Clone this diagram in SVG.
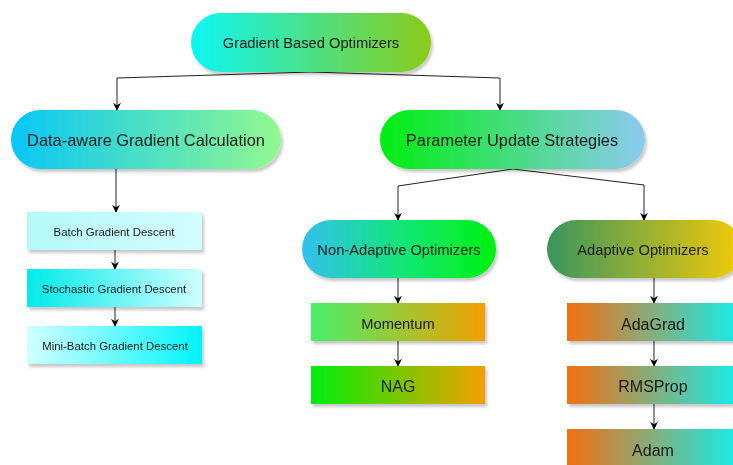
<svg xmlns="http://www.w3.org/2000/svg" width="733" height="465" viewBox="0 0 733 465">
<defs>
  <filter id="sh" x="-10%" y="-20%" width="130%" height="160%">
    <feDropShadow dx="2" dy="3" stdDeviation="1.5" flood-color="#000" flood-opacity="0.22"/>
  </filter>
  <marker id="arr" viewBox="0 0 10 10" refX="9" refY="5" markerWidth="8" markerHeight="8" markerUnits="userSpaceOnUse" orient="auto">
    <path d="M0,0 L10,5 L0,10 L3,5 Z" fill="#000"/>
  </marker>
  <linearGradient id="gTop" x1="0" y1="0" x2="1" y2="0"><stop offset="0" stop-color="#0df6f4"/><stop offset="1" stop-color="#8acb19"/></linearGradient>
  <linearGradient id="gData" x1="0" y1="0" x2="1" y2="0"><stop offset="0" stop-color="#08c6f6"/><stop offset="1" stop-color="#92f890"/></linearGradient>
  <linearGradient id="gParam" x1="0" y1="0" x2="1" y2="0"><stop offset="0" stop-color="#00ee10"/><stop offset="1" stop-color="#8ccaf0"/></linearGradient>
  <linearGradient id="gNon" x1="0" y1="0" x2="1" y2="0"><stop offset="0" stop-color="#33c0ee"/><stop offset="0.55" stop-color="#10e870"/><stop offset="1" stop-color="#00f010"/></linearGradient>
  <linearGradient id="gAda" x1="0" y1="0" x2="1" y2="0"><stop offset="0" stop-color="#3a955e"/><stop offset="1" stop-color="#f2ca08"/></linearGradient>
  <linearGradient id="gBatch" x1="0" y1="0" x2="1" y2="0"><stop offset="0" stop-color="#b4f8f8"/><stop offset="1" stop-color="#d2fdff"/></linearGradient>
  <linearGradient id="gStoch" x1="0" y1="0" x2="1" y2="0"><stop offset="0" stop-color="#00eaea"/><stop offset="1" stop-color="#d0feff"/></linearGradient>
  <linearGradient id="gMini" x1="0" y1="0" x2="1" y2="0"><stop offset="0" stop-color="#d0feff"/><stop offset="1" stop-color="#00f4f8"/></linearGradient>
  <linearGradient id="gMom" x1="0" y1="0" x2="1" y2="0"><stop offset="0" stop-color="#48ef6a"/><stop offset="1" stop-color="#f2a000"/></linearGradient>
  <linearGradient id="gNag" x1="0" y1="0" x2="1" y2="0"><stop offset="0" stop-color="#00ee08"/><stop offset="1" stop-color="#f2a000"/></linearGradient>
  <linearGradient id="gOr" x1="0" y1="0" x2="1" y2="0"><stop offset="0" stop-color="#f36f10"/><stop offset="1" stop-color="#10f0f0"/></linearGradient>
</defs>
<style>
  text { font-family: "Liberation Sans", Arial, sans-serif; fill: #1a1a1a; text-anchor: middle; dominant-baseline: central; }
  .big { font-size: 14.7px; }
  .lg { font-size: 16.4px; }
  .md { font-size: 16px; }
  .small { font-size: 11.4px; }
  .node { filter: url(#sh); }
  .conn { fill: none; stroke: #222; stroke-width: 1; marker-end: url(#arr); }
</style>
<g id="connectors">
  <polyline class="conn" points="311,72 117,78 117,110"/>
  <polyline class="conn" points="311,72 500,78 500,110"/>
  <polyline class="conn" points="116,169 116,212"/>
  <polyline class="conn" points="115,250 115,269"/>
  <polyline class="conn" points="115,307 115,326"/>
  <polyline class="conn" points="513,169 398,186 398,220"/>
  <polyline class="conn" points="513,169 644,185 644,220"/>
  <polyline class="conn" points="398,278 398,303"/>
  <polyline class="conn" points="398,341 398,366"/>
  <polyline class="conn" points="654,278 654,303"/>
  <polyline class="conn" points="654,341 654,366"/>
  <polyline class="conn" points="654,404 654,429"/>
</g>
<g id="n-top" class="node"><rect x="191" y="13" width="240" height="59" rx="29.5" fill="url(#gTop)"/><text class="big" x="311" y="43">Gradient Based Optimizers</text></g>
<g id="n-data" class="node"><rect x="11" y="110" width="270" height="59" rx="29.5" fill="url(#gData)"/><text class="lg" x="146" y="140">Data-aware Gradient Calculation</text></g>
<g id="n-param" class="node"><rect x="380" y="110" width="265" height="59" rx="29.5" fill="url(#gParam)"/><text class="lg" x="512" y="140">Parameter Update Strategies</text></g>
<g id="n-batch" class="node"><rect x="27" y="212" width="175" height="38" fill="url(#gBatch)"/><text class="small" x="114" y="232">Batch Gradient Descent</text></g>
<g id="n-stoch" class="node"><rect x="27" y="269" width="175" height="38" fill="url(#gStoch)"/><text class="small" x="114" y="289">Stochastic Gradient Descent</text></g>
<g id="n-mini" class="node"><rect x="27" y="326" width="175" height="38" fill="url(#gMini)"/><text class="small" x="115" y="346">Mini-Batch Gradient Descent</text></g>
<g id="n-nonadaptive" class="node"><rect x="302" y="220" width="194" height="58" rx="29" fill="url(#gNon)"/><text class="big" x="399" y="250">Non-Adaptive Optimizers</text></g>
<g id="n-adaptive" class="node"><rect x="547" y="220" width="195" height="58" rx="29" fill="url(#gAda)"/><text class="big" x="643" y="250">Adaptive Optimizers</text></g>
<g id="n-momentum" class="node"><rect x="311" y="303" width="174" height="38" fill="url(#gMom)"/><text class="big" x="398" y="324">Momentum</text></g>
<g id="n-nag" class="node"><rect x="311" y="366" width="174" height="38" fill="url(#gNag)"/><text class="md" x="398" y="386">NAG</text></g>
<g id="n-adagrad" class="node"><rect x="567" y="303" width="175" height="38" fill="url(#gOr)"/><text class="md" x="653" y="324">AdaGrad</text></g>
<g id="n-rmsprop" class="node"><rect x="567" y="366" width="175" height="38" fill="url(#gOr)"/><text class="md" x="653" y="386">RMSProp</text></g>
<g id="n-adam" class="node"><rect x="567" y="429" width="175" height="38" fill="url(#gOr)"/><text class="md" x="653" y="450">Adam</text></g>
</svg>
